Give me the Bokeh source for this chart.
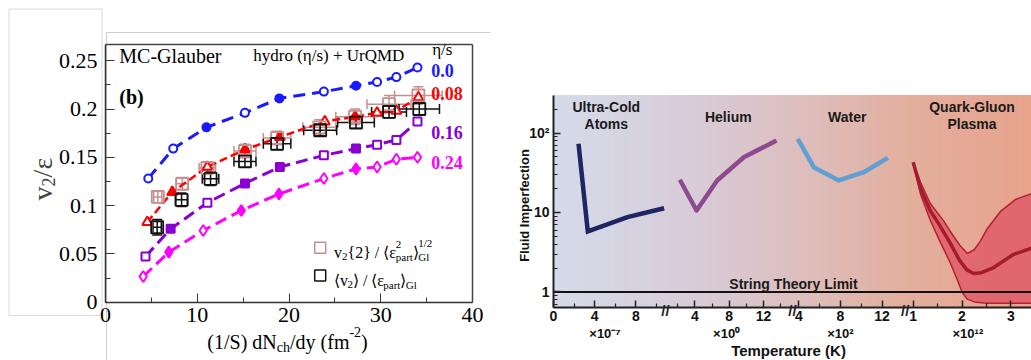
import numpy as np
from bokeh.plotting import figure
from bokeh.layouts import row
from bokeh.models import (Range1d, FixedTicker, NumeralTickFormatter, Label,
                          Whisker, ColumnDataSource, TeeHead, LinearAxis)
from bokeh.embed import file_html
from bokeh.resources import INLINE

# ---------------- left panel data: v2/eps vs (1/S) dNch/dy ----------------
eta_over_s = ["0.0", "0.08", "0.16", "0.24"]
x_eta000 = [4.66, 7.38, 11.0, 15.2, 18.95, 23.8, 27.3, 29.6, 31.7, 34.0]
v_eta000 = [0.128, 0.159, 0.181, 0.196, 0.211, 0.218, 0.224, 0.228, 0.233, 0.243]
x_eta008 = [4.55, 7.27, 11.1, 15.2, 19.0, 23.9, 27.2, 29.6, 31.7, 34.1]
v_eta008 = [0.0828, 0.114, 0.140, 0.158, 0.171, 0.187, 0.192, 0.196, 0.198, 0.212]
x_eta016 = [4.36, 7.1, 11.1, 15.2, 19.0, 23.8, 27.3, 29.6, 31.7, 34.0]
v_eta016 = [0.0473, 0.076, 0.103, 0.123, 0.140, 0.152, 0.159, 0.163, 0.168, 0.187]
x_eta024 = [4.11, 6.9, 10.65, 14.8, 18.9, 23.8, 27.3, 29.6, 31.7, 34.0]
v_eta024 = [0.0266, 0.0518, 0.0742, 0.0949, 0.112, 0.128, 0.138, 0.140, 0.148, 0.150]
filled_ideal = [0, 0, 1, 0, 1, 0, 1, 0, 0, 0]
filled_visc = [0, 1, 0, 1, 1, 0, 1, 0, 0, 0]

x_v22 = [5.7, 8.36, 11.1, 15.2, 18.7, 23.3, 27.2, 30.9, 34.1]
r_v22 = [0.109, 0.1226, 0.139, 0.1565, 0.170, 0.181, 0.192, 0.205, 0.214]
xerr_v22 = [0.45, 0.65, 0.9, 1.2, 1.5, 1.8, 2.1, 2.4, 2.6]
yerr_v22 = [0.006, 0.006, 0.006, 0.007, 0.007, 0.008, 0.008, 0.009, 0.009]
x_vmean = [5.63, 8.29, 11.45, 15.2, 18.7, 23.4, 27.3, 30.9, 34.2]
r_vmean = [0.0776, 0.106, 0.1277, 0.1457, 0.164, 0.178, 0.186, 0.197, 0.200]
xerr_vmean = [0.45, 0.65, 0.9, 1.2, 1.5, 1.8, 2.0, 1.9, 2.2]
yerr_vmean = [0.008, 0.007, 0.007, 0.006, 0.006, 0.006, 0.006, 0.006, 0.006]

# ---------------- right panel data: fluid imperfection ----------------
cold_T = [2.43, 3.33, 7.18, 10.74]            # x 1e-7 K
cold_eta = [73.1, 5.77, 8.73, 11.3]
helium_T = [2.26, 4.2, 6.6, 9.7, 13.5]        # x 1e0 K
helium_eta = [25.8, 10.6, 25.3, 49.6, 80.5]
water_T = [3.9, 5.44, 7.85, 10.25, 12.56]     # x 1e2 K
water_eta = [84.5, 37.2, 25.3, 32.1, 48.7]
qgp_up_T = [1.0, 1.15, 1.35, 1.62, 1.75, 1.95, 2.11, 2.25, 2.38, 2.52, 2.8, 3.1, 3.45]  # x 1e12 K
qgp_up_eta = [42.9, 24, 13, 7.9, 5.9, 3.9, 3.05, 3.4, 4.4, 6.3, 10.5, 14.6, 17.5]
qgp_lo_T = [1.0, 1.15, 1.35, 1.55, 1.75, 1.9, 2.0, 2.1, 2.25, 2.5, 3.45]
qgp_lo_eta = [42.9, 17, 8, 4.3, 2.4, 1.45, 1.0, 0.82, 0.75, 0.72, 0.72]
qgp_mid_T = [1.0, 1.15, 1.35, 1.5, 1.75, 1.95, 2.1, 2.24, 2.4, 2.65, 3.05, 3.45]
qgp_mid_eta = [42.9, 20, 10.5, 7.6, 4.2, 2.5, 1.9, 1.71, 1.75, 2.03, 2.96, 3.6]
string_limit = 1.0

# broken temperature axis: segment -> (axis origin, T at origin, axis units per T unit)
SEG = {"m7": (0.0, 0.0, 10.3), "p0": (141.3, 4.0, 8.6), "p2": (245.3, 4.0, 10.4), "p12": (359.7, 1.0, 48.8)}
seg_ticks_major = {"m7": [0, 4, 8], "p0": [4, 8, 12], "p2": [4, 8, 12], "p12": [1, 2, 3]}
seg_ticks_minor = {"m7": [2, 6, 10], "p0": [2, 6, 10, 14], "p2": [6, 10], "p12": [1.5, 2.5]}
seg_mult = {"m7": "×10⁻⁷", "p0": "×10⁰", "p2": "×10²", "p12": "×10¹²"}
seg_mult_T = {"m7": 5.0, "p0": 7.7, "p2": 8.0, "p12": 2.12}
break_u = [112, 239, 351.7]


def to_u(seg, t):
    u0, t0, k = SEG[seg]
    return (u0 + k * (np.asarray(t, dtype=float) - t0)).tolist()


SERIF = "Liberation Serif"
SANS = "Liberation Sans"

# ======================= LEFT FIGURE =======================
# whole canvas is the frame; axes are pinned with fixed_location/bounds
Y_TOP = 0.2668
p1 = figure(width=500, height=360, min_border=0,
            x_range=Range1d(-11.444, 43.05), y_range=Range1d(-0.06035, 0.31232),
            output_backend="svg", toolbar_location=None)
p1.grid.visible = False
p1.outline_line_color = None
p1.background_fill_color = "white"

# decorative panel borders of the reference (light grey box + lines)
p1.quad(left=[-10.52], right=[-0.38], bottom=[-0.0138], top=[0.3035],
        fill_color="white", line_color="#d9d9d9", line_width=1)
p1.line([0.11, 41.96], [0.2792, 0.2792], line_color="#cfcfcf", line_width=1)
p1.line([0.11, 0.11], [-0.0604, 0.2792], line_color="#cfcfcf", line_width=1)

p1.xaxis.ticker = FixedTicker(ticks=[0, 10, 20, 30, 40], minor_ticks=[5, 15, 25, 35])
p1.yaxis.ticker = FixedTicker(ticks=[0, 0.05, 0.1, 0.15, 0.2, 0.25],
                              minor_ticks=[0.025, 0.075, 0.125, 0.175, 0.225])
p1.yaxis.formatter = NumeralTickFormatter(format="0.[00]")
p1.xaxis.fixed_location = 0
p1.xaxis.bounds = (0, 40)
p1.yaxis.fixed_location = 0
p1.yaxis.bounds = (0, Y_TOP)
for ax in (p1.xaxis[0], p1.yaxis[0]):
    ax.major_tick_in = 9
    ax.major_tick_out = 0
    ax.minor_tick_in = 5
    ax.minor_tick_out = 0
    ax.axis_line_width = 1.5
    ax.axis_line_color = "#333333"
    ax.major_tick_line_color = "#333333"
    ax.minor_tick_line_color = "#333333"
    ax.major_label_text_font = SERIF
    ax.major_label_text_font_size = "22px"
    ax.major_label_text_color = "black"
p1.yaxis.major_label_standoff = 8
p1.xaxis.major_label_standoff = 6

for loc, fl, bnd in (("above", Y_TOP, (0, 40)), ("right", 40, (0, Y_TOP))):
    fr = LinearAxis(fixed_location=fl, bounds=bnd, ticker=FixedTicker(ticks=[]),
                    axis_line_color="#444444", axis_line_width=1.5,
                    major_label_text_font_size="0px")
    p1.add_layout(fr, loc)

series = [
    (x_eta000, v_eta000, "#1a1aff", "circle", 8, filled_ideal, "12 7", 3),
    (x_eta008, v_eta008, "#ff0000", "triangle", 10, filled_visc, "8 4", 2.5),
    (x_eta016, v_eta016, "#8a00d4", "square", 8, filled_visc, "12 6", 3),
    (x_eta024, v_eta024, "#ff00ff", "diamond", 11, filled_visc, "12 6", 3),
]
for xs, vs, col, mk, sz, fl, dash, lw in series:
    p1.line(xs, vs, line_color=col, line_width=lw, line_dash=dash)
    src = ColumnDataSource(dict(x=xs, y=vs, fc=[col if f else "white" for f in fl]))
    p1.scatter("x", "y", source=src, marker=mk, size=sz, line_color=col, line_width=2,
               fill_color="fc")

exp_sets = [
    (x_v22, r_v22, xerr_v22, yerr_v22, "#c48f8f"),
    (x_vmean, r_vmean, xerr_vmean, yerr_vmean, "#111111"),
]
for xs, rs, xe, ye, col in exp_sets:
    src = ColumnDataSource(dict(
        x=xs, y=rs,
        xl=[a - b for a, b in zip(xs, xe)], xu=[a + b for a, b in zip(xs, xe)],
        yl=[a - b for a, b in zip(rs, ye)], yu=[a + b for a, b in zip(rs, ye)]))
    p1.add_layout(Whisker(source=src, base="y", lower="xl", upper="xu", dimension="width",
                          line_color=col, line_width=1.5,
                          lower_head=TeeHead(size=10, line_color=col, line_width=1.5),
                          upper_head=TeeHead(size=10, line_color=col, line_width=1.5)))
    p1.add_layout(Whisker(source=src, base="x", lower="yl", upper="yu", dimension="height",
                          line_color=col, line_width=1.5,
                          lower_head=TeeHead(size=10, line_color=col, line_width=1.5),
                          upper_head=TeeHead(size=10, line_color=col, line_width=1.5)))
    p1.scatter("x", "y", source=src, marker="square", size=12, line_color=col,
               line_width=1.8, fill_color=None)

# legend markers
p1.scatter([23.4], [0.0563], marker="square", size=11, line_color="#c48f8f",
           line_width=1.5, fill_color=None)
p1.scatter([23.4], [0.0276], marker="square", size=11, line_color="#111111",
           line_width=1.5, fill_color=None)


def lab(p, x, y, text, font, size, color="black", style="normal", align="left",
        baseline="middle", xo=0, yo=0, angle=0):
    p.add_layout(Label(x=x, y=y, text=text, text_font=font, text_font_size=f"{size}px",
                       text_color=color, text_font_style=style, text_align=align,
                       text_baseline=baseline, x_offset=xo, y_offset=yo, angle=angle))


lab(p1, 1.5, 0.2545, "MC-Glauber", SERIF, 20)
lab(p1, 16.1, 0.2555, "hydro (η/s) + UrQMD", SERIF, 17)
lab(p1, 35.6, 0.2616, "η/s", SERIF, 17)
lab(p1, 1.5, 0.2122, "(b)", SERIF, 20, style="bold")
lab_y = [0.2399, 0.2157, 0.176, 0.1443]
lab_c = ["#1a1aff", "#ff0000", "#8a00d4", "#ff00ff"]
for t, yy, c in zip(eta_over_s, lab_y, lab_c):
    lab(p1, 35.5, yy, t, SERIF, 18, color=c, style="bold")

# rich text with sub/superscripts
W = {'v': .5, '2': .5, '{': .48, '}': .48, ' ': .25, '/': .278, '⟨': .34, '⟩': .34,
     'ε': .44, 'p': .5, 'a': .444, 'r': .333, 't': .278, '1': .5, 'G': .722, 'l': .278,
     '(': .333, ')': .333, 'S': .556, 'd': .5, 'N': .722, 'c': .444, 'h': .5, 'y': .5,
     'f': .333, 'm': .778, '-': .333, '−': .564}


def tw(s, sz):
    return sum(W.get(c, 0.5) for c in s) * sz


def rich(p, x, y, groups, font, color="black"):
    off = 0.0
    for grp in groups:
        adv = 0.0
        for t, dy, sz in grp:
            p.add_layout(Label(x=x, y=y, x_offset=off, y_offset=dy, text=t, text_font=font,
                               text_font_size=f"{sz}px", text_color=color,
                               text_baseline="alphabetic", text_align="left"))
            adv = max(adv, tw(t, sz))
        off += adv


B, S = 16, 11
rich(p1, 24.9, 0.0518, [[("v", 0, B)], [("2", -4, S)], [("{2} / ⟨ε", 0, B)],
                        [("2", 8, S), ("part", -5, S)], [("⟩", 0, B)],
                        [("1/2", 9, S), ("Gl", -5, S)]], SERIF)
rich(p1, 24.9, 0.0225, [[("⟨v", 0, B)], [("2", -4, S)], [("⟩ / ⟨ε", 0, B)],
                        [("part", -5, S)], [("⟩", 0, B)], [("Gl", -5, S)]], SERIF)
rich(p1, 11.1, -0.0416, [[("(1/S) dN", 0, 20)], [("ch", -5, 14)], [("/dy (fm", 0, 20)],
                         [("-2", 10, 14)], [(")", 0, 20)]], SERIF)
# rotated y title v2/eps
rich_rot = [("v", 0, 28), ("2", -6, 18), ("/ε", 0, 28)]
off = 0.0
for t, dy, sz in rich_rot:
    p1.add_layout(Label(x=-6.9, y=0.1054, x_offset=-dy, y_offset=off, text=t, text_font=SERIF,
                        text_font_size=f"{sz}px", angle=np.pi / 2, text_baseline="alphabetic",
                        text_align="left"))
    off += tw(t, sz)

# ======================= RIGHT FIGURE =======================
ETA_LO, ETA_HI = 0.633, 296.3
p2 = figure(width=531, height=360, min_border=0,
            x_range=Range1d(-53, 478), y_range=Range1d(0.1375, 4642), y_axis_type="log",
            output_backend="svg", toolbar_location=None)
p2.grid.visible = False
p2.outline_line_color = None
p2.background_fill_color = "white"

# background gradient
stops_u = [0, 150, 250, 360, 478]
stops_c = [(213, 219, 234), (216, 203, 214), (221, 190, 189), (227, 174, 156), (232, 163, 140)]
edges = np.linspace(0, 478, 121)
mids = 0.5 * (edges[:-1] + edges[1:])
cols = []
for m in mids:
    rgb = [int(round(np.interp(m, stops_u, [c[i] for c in stops_c]))) for i in range(3)]
    cols.append("#%02x%02x%02x" % tuple(rgb))
p2.quad(left=edges[:-1], right=edges[1:], bottom=ETA_LO, top=ETA_HI, fill_color=cols,
        line_color=cols, line_width=1)

p2.line(to_u("m7", cold_T), cold_eta, line_color="#1f2463", line_width=4.5, line_join="miter")
p2.line(to_u("p0", helium_T), helium_eta, line_color="#8e4a8e", line_width=4.5, line_join="round")
p2.line(to_u("p2", water_T), water_eta, line_color="#5f9fd3", line_width=4.5, line_join="round")

band_x = to_u("p12", qgp_up_T) + to_u("p12", qgp_lo_T)[::-1]
band_y = qgp_up_eta + qgp_lo_eta[::-1]
p2.patch(band_x, band_y, fill_color="#e0606c", fill_alpha=0.9, line_color="#b3202f", line_width=1.5)
p2.line(to_u("p12", qgp_mid_T), qgp_mid_eta, line_color="#a51c2c", line_width=3.5)

p2.line([0, 478], [string_limit, string_limit], line_color="#111111", line_width=2)

major_u, minor_u, overrides = [], [], {}
for sg in SEG:
    for t in seg_ticks_major[sg]:
        u = round(to_u(sg, [t])[0], 2)
        major_u.append(u)
        overrides[u] = str(t)
    for t in seg_ticks_minor[sg]:
        minor_u.append(round(to_u(sg, [t])[0], 2))
p2.xaxis.ticker = FixedTicker(ticks=major_u, minor_ticks=minor_u)
p2.xaxis.major_label_overrides = overrides
p2.xaxis.fixed_location = ETA_LO
p2.xaxis.bounds = (0, 478)
p2.yaxis.ticker = FixedTicker(ticks=[1, 10, 100],
                              minor_ticks=[0.7, 0.8, 0.9, 2, 3, 4, 5, 6, 7, 8, 9,
                                           20, 30, 40, 50, 60, 70, 80, 90, 200])
p2.yaxis.major_label_overrides = {1: "1", 10: "10", 100: "10²"}
p2.yaxis.fixed_location = 0
p2.yaxis.bounds = (ETA_LO, ETA_HI)
for ax in (p2.xaxis[0], p2.yaxis[0]):
    ax.axis_line_width = 2
    ax.axis_line_color = "#222222"
    ax.major_tick_line_color = "#222222"
    ax.minor_tick_line_color = "#222222"
    ax.major_tick_line_width = 1.5
    ax.minor_tick_line_width = 1.2
    ax.major_tick_in = 7
    ax.major_tick_out = 0
    ax.minor_tick_in = 4
    ax.minor_tick_out = 0
    ax.major_label_text_font = SANS
    ax.major_label_text_font_style = "bold"
    ax.major_label_text_font_size = "14px"
    ax.major_label_text_color = "#111111"
p2.xaxis.major_label_standoff = 3
p2.yaxis.major_label_standoff = 4

lab(p2, 235, 0.1837, "Temperature (K)", SANS, 15, color="#111111", style="bold", align="center")
lab(p2, -29, 10 ** ((291.5 - 205) / 79.5), "Fluid Imperfection", SANS, 13, color="#111111",
    style="bold", align="center", angle=np.pi / 2)

lab(p2, 52.8, 211, "Ultra-Cold", SANS, 14, color="#1a1a1a", style="bold", align="center")
lab(p2, 52.8, 130.5, "Atoms", SANS, 14, color="#1a1a1a", style="bold", align="center")
lab(p2, 174.8, 158, "Helium", SANS, 14, color="#1a1a1a", style="bold", align="center")
lab(p2, 293.7, 158, "Water", SANS, 14, color="#1a1a1a", style="bold", align="center")
lab(p2, 418.5, 211, "Quark-Gluon", SANS, 14, color="#1a1a1a", style="bold", align="center")
lab(p2, 418.5, 130.5, "Plasma", SANS, 14, color="#1a1a1a", style="bold", align="center")
lab(p2, 240, 1.268, "String Theory Limit", SANS, 14, color="#1a1a1a", style="bold", align="center")

for sg in SEG:
    u = to_u(sg, [seg_mult_T[sg]])[0]
    lab(p2, u, 0.3006, seg_mult[sg], SANS, 13, color="#111111", style="bold", align="center")
for u in break_u:
    lab(p2, u, 0.585, "//", SANS, 15, color="#222222", style="bold", align="center")

layout = row(p1, p2)
open("out.html", "w").write(file_html(layout, INLINE))
